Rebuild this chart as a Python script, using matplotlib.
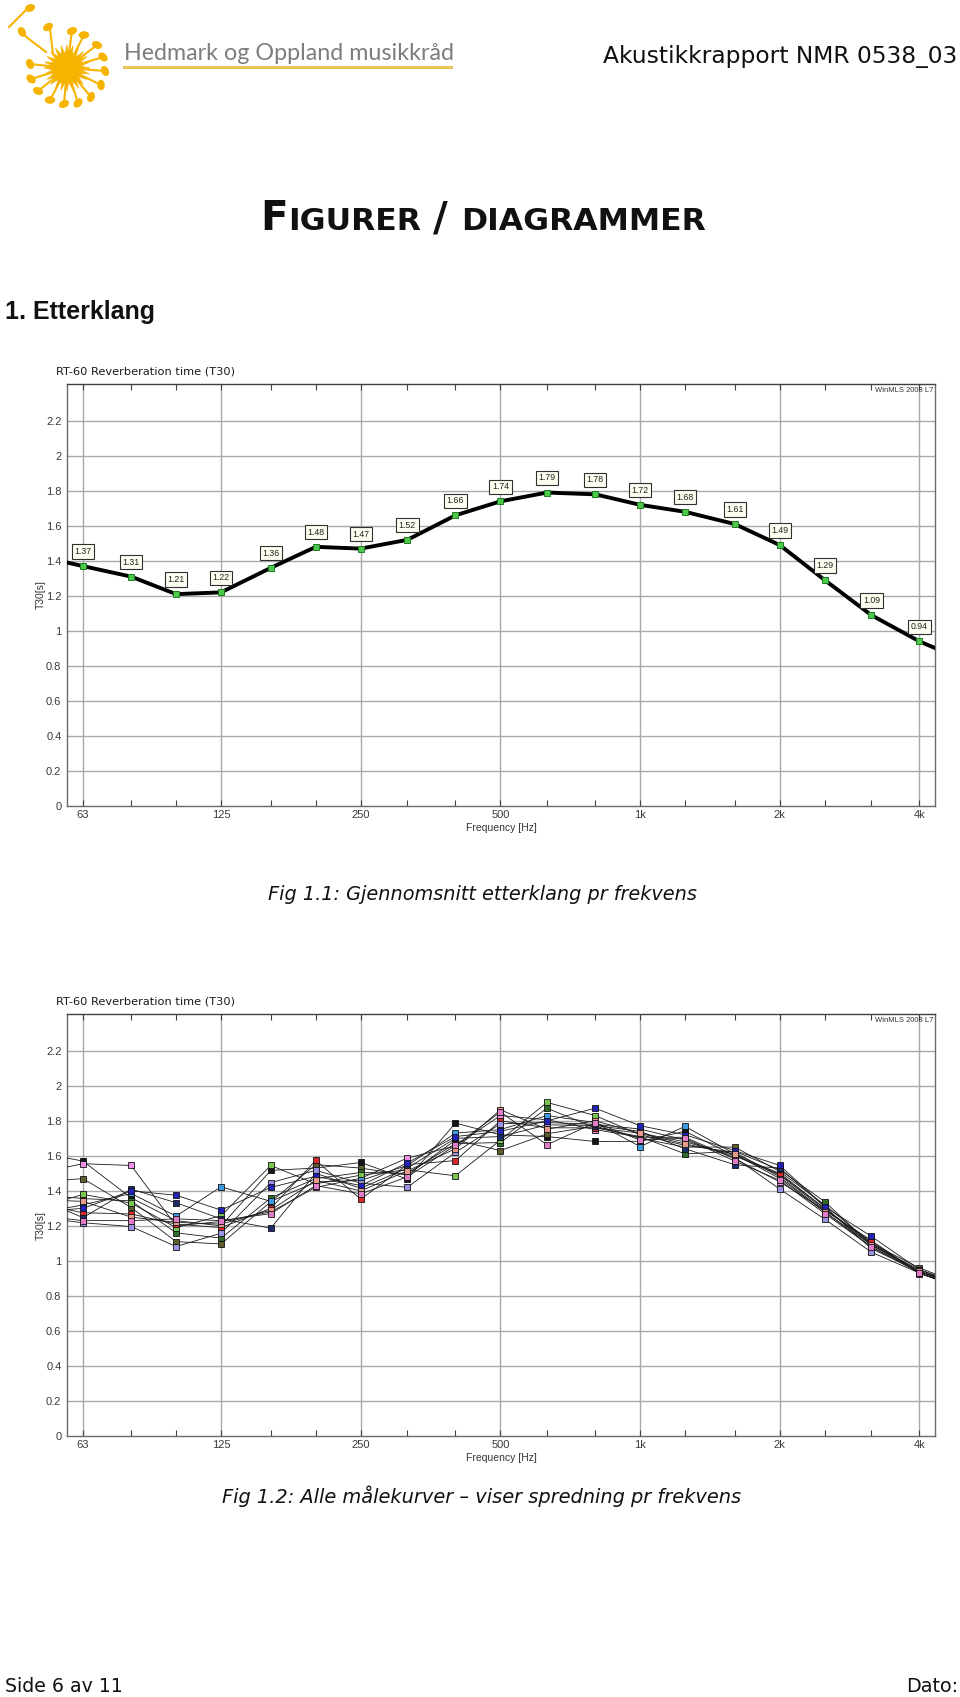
import matplotlib
matplotlib.use('Agg')
import matplotlib.pyplot as plt
from matplotlib import font_manager
from matplotlib.patches import Ellipse, Polygon
from matplotlib.ticker import FixedLocator, NullLocator, FixedFormatter
import numpy as np

W, H = 960, 1697
available = {f.name for f in font_manager.fontManager.ttflist}
NARROW = 'Liberation Sans Narrow' if 'Liberation Sans Narrow' in available else 'Liberation Sans'

# ---------------- data ----------------
freqs = [50, 63, 80, 100, 125, 160, 200, 250, 315, 400, 500, 630, 800,
         1000, 1250, 1600, 2000, 2500, 3150, 4000, 5000]
tick_freqs = [63, 80, 100, 125, 160, 200, 250, 315, 400, 500, 630, 800,
              1000, 1250, 1600, 2000, 2500, 3150, 4000]
major_freqs = [63, 125, 250, 500, 1000, 2000, 4000]
major_labels = ['63', '125', '250', '500', '1k', '2k', '4k']
y_ticks = [0, 0.2, 0.4, 0.6, 0.8, 1.0, 1.2, 1.4, 1.6, 1.8, 2.0, 2.2]
y_labels = ['0', '0.2', '0.4', '0.6', '0.8', '1', '1.2', '1.4', '1.6', '1.8', '2', '2.2']

mean_t30 = [1.43, 1.37, 1.31, 1.21, 1.22, 1.36, 1.48, 1.47, 1.52, 1.66, 1.74,
            1.79, 1.78, 1.72, 1.68, 1.61, 1.49, 1.29, 1.09, 0.94, 0.83]

pos_black = [1.62, 1.57, 1.36, 1.23, 1.20, 1.517, 1.53, 1.562, 1.467, 1.787, 1.72,
             1.71, 1.682, 1.683, 1.74, 1.60, 1.50, 1.30, 1.10, 0.94, 0.85]
pos_pink = [1.50, 1.555, 1.545, 1.20, 1.225, 1.28, 1.42, 1.472, 1.587, 1.657, 1.83,
            1.806, 1.75, 1.706, 1.706, 1.583, 1.451, 1.29, 1.117, 0.928, 0.84]
pos_olive = [1.45, 1.47, 1.305, 1.11, 1.097, 1.338, 1.55, 1.53, 1.49, 1.69, 1.63,
             1.726, 1.77, 1.70, 1.65, 1.65, 1.51, 1.32, 1.10, 0.96, 0.86]
pos_dkgreen = [1.38, 1.356, 1.343, 1.16, 1.13, 1.36, 1.47, 1.505, 1.50, 1.67, 1.676,
               1.872, 1.76, 1.71, 1.611, 1.626, 1.52, 1.338, 1.09, 0.95, 0.85]
pos_ltgreen = [1.30, 1.38, 1.33, 1.19, 1.258, 1.545, 1.44, 1.49, 1.52, 1.486, 1.69,
               1.905, 1.83, 1.72, 1.66, 1.62, 1.48, 1.28, 1.08, 0.94, 0.84]
pos_ltblue = [1.27, 1.32, 1.385, 1.256, 1.423, 1.34, 1.45, 1.46, 1.545, 1.73, 1.75,
              1.83, 1.79, 1.653, 1.768, 1.611, 1.494, 1.30, 1.09, 0.94, 0.85]
pos_red = [1.33, 1.275, 1.268, 1.21, 1.19, 1.30, 1.574, 1.352, 1.55, 1.573, 1.80,
           1.76, 1.76, 1.73, 1.68, 1.60, 1.49, 1.29, 1.11, 0.93, 0.84]
pos_navy = [1.36, 1.247, 1.41, 1.332, 1.24, 1.187, 1.50, 1.415, 1.53, 1.70, 1.71,
            1.777, 1.773, 1.74, 1.64, 1.549, 1.53, 1.31, 1.07, 0.94, 0.86]
pos_lavender = [1.25, 1.218, 1.196, 1.082, 1.158, 1.447, 1.517, 1.444, 1.42, 1.62, 1.783,
                1.79, 1.78, 1.753, 1.69, 1.59, 1.41, 1.238, 1.05, 0.93, 0.85]
pos_blue = [1.28, 1.30, 1.40, 1.375, 1.29, 1.42, 1.483, 1.43, 1.56, 1.71, 1.74,
            1.80, 1.872, 1.772, 1.72, 1.63, 1.545, 1.31, 1.14, 0.95, 0.86]
pos_salmon = [1.35, 1.34, 1.25, 1.22, 1.21, 1.29, 1.46, 1.40, 1.514, 1.64, 1.863,
              1.752, 1.80, 1.728, 1.668, 1.61, 1.47, 1.28, 1.092, 0.94, 0.85]
pos_pink2 = [1.26, 1.23, 1.23, 1.24, 1.23, 1.27, 1.43, 1.383, 1.48, 1.66, 1.85,
             1.663, 1.79, 1.69, 1.70, 1.57, 1.46, 1.27, 1.08, 0.93, 0.84]

series = [pos_black, pos_pink, pos_olive, pos_dkgreen, pos_ltgreen, pos_ltblue,
          pos_red, pos_navy, pos_lavender, pos_blue, pos_salmon, pos_pink2]
series_colors = ['#141414', '#f090e6', '#5e5c2c', '#2f6b2b', '#7cc452', '#3a9ae2',
                 '#d82a2a', '#1d2c6a', '#9a92e2', '#2222b8', '#e89a8a', '#e07cc8']

# ---------------- figure ----------------
fig = plt.figure(figsize=(9.6, 16.97), dpi=100)
fig.patch.set_facecolor('white')
renderer = fig.canvas.get_renderer()


def fit_text(x, y, s, width, size0=12, **kw):
    t = fig.text(x / W, 1 - y / H, s, fontsize=size0, **kw)
    w = t.get_window_extent(renderer).width
    t.set_fontsize(size0 * width / w)
    return t


# ---- logo ----
SUN = '#f6b400'
lax = fig.add_axes([0, 1 - 125 / H, 130 / W, 125 / H])
lax.set_xlim(0, 130)
lax.set_ylim(125, 0)
lax.axis('off')
cx, cy = 67, 68
ang = np.linspace(0, 2 * np.pi, 49)[:-1]
rr = np.where(np.arange(48) % 2 == 0, 23, 14)
lax.add_patch(Polygon(np.c_[cx + rr * np.cos(ang), cy + rr * np.sin(ang)],
                      closed=True, fc=SUN, ec=SUN, lw=0.5))
heads = [(72, 31), (84, 35), (97, 45), (103, 57), (105, 71), (101, 85), (91, 97),
         (78, 103), (64, 104), (50, 100), (38, 91), (31, 79), (30, 64)]
for hx, hy in heads:
    dx, dy = hx - cx, hy - cy
    d = np.hypot(dx, dy)
    ux, uy = dx / d, dy / d
    lax.plot([cx + ux * 14, hx - ux * 3], [cy + uy * 14, hy - uy * 3],
             color=SUN, lw=1.5, solid_capstyle='round')
    lax.add_patch(Ellipse((hx, hy), 10.5, 7.5, angle=np.degrees(np.arctan2(dy, dx)) + 60,
                          fc=SUN, ec='none'))
# detached notes at upper left
lax.plot([50, 53], [29, 54], color=SUN, lw=1.5)
lax.add_patch(Ellipse((48, 27), 10.5, 7.5, angle=-30, fc=SUN, ec='none'))
lax.plot([25, 46], [36, 52], color=SUN, lw=1.5)
lax.add_patch(Ellipse((22, 32), 10.5, 7.5, angle=60, fc=SUN, ec='none'))
lax.plot([27, 9], [9, 27], color=SUN, lw=1.5)
lax.add_patch(Ellipse((30, 8), 10.5, 7.5, angle=-20, fc=SUN, ec='none'))

fit_text(124, 53, 'Hedmark og Oppland musikkråd', 327, family='Lato',
         color='#7d7d7d', va='center', ha='left')
fig.add_artist(plt.Line2D([124 / W, 451 / W], [1 - 67 / H, 1 - 67 / H],
                          color='#e9c65a', lw=2.2))

fit_text(603, 57, 'Akustikkrapport NMR 0538_03', 355, family='DejaVu Sans',
         color='#111111', va='center', ha='left')

# ---- heading with small caps ----
pieces = [('F', 1.0), ('IGURER', 0.78), ('/', 1.0), ('DIAGRAMMER', 0.78)]
gaps = [0, 0, 0.32, 0.32]
base = 26
tmp = []
total = 0
for (s, f), g in zip(pieces, gaps):
    t = fig.text(0, 0, s, fontsize=base * f, family='DejaVu Sans', weight='bold')
    w = t.get_window_extent(renderer).width
    tmp.append((t, w, g * base * 100 / 72))
    total += w + g * base * 100 / 72
for t, _, _ in tmp:
    t.remove()
scale = 446 / total
x0 = 483 - 446 / 2
baseline = 230
for (s, f), (t, w, g) in zip(pieces, tmp):
    x0 += g * scale
    fig.text(x0 / W, 1 - baseline / H, s, fontsize=base * f * scale,
             family='DejaVu Sans', weight='bold', va='baseline', ha='left', color='#111111')
    x0 += w * scale

fit_text(5, 312, '1. Etterklang', 150, family=NARROW, weight='bold',
         va='center', ha='left', color='#111111')


# ---- charts ----
def make_chart(top):
    left, right, height = 67, 935, 422
    ax = fig.add_axes([left / W, 1 - (top + height) / H, (right - left) / W, height / H])
    ax.set_xscale('log')
    ax.set_xlim(58.2, 4320)
    ax.set_ylim(0, 2.41)
    ax.xaxis.set_major_locator(FixedLocator(tick_freqs))
    ax.xaxis.set_minor_locator(NullLocator())
    lab = [major_labels[major_freqs.index(f)] if f in major_freqs else '' for f in tick_freqs]
    ax.xaxis.set_major_formatter(FixedFormatter(lab))
    ax.set_yticks(y_ticks)
    ax.set_yticklabels(y_labels)
    ax.tick_params(axis='x', direction='in', top=True, bottom=True, length=4,
                   width=0.8, color='#404040', labelsize=8, labelcolor='#3a3a3a', pad=3)
    ax.tick_params(axis='y', length=0, labelsize=8, labelcolor='#3a3a3a', pad=4)
    for lbl in ax.get_xticklabels() + ax.get_yticklabels():
        lbl.set_family(NARROW)
    for f in major_freqs:
        ax.axvline(f, color='#a9a9a9', lw=1.0, zorder=0)
    for v in y_ticks[1:]:
        ax.axhline(v, color='#a9a9a9', lw=1.0, zorder=0)
    for sp in ax.spines.values():
        sp.set_color('#6a6a6a')
        sp.set_linewidth(1.0)
    ax.spines['top'].set_color('#404040')
    ax.text(0.998, 0.992, 'WinMLS 2008 L7', transform=ax.transAxes, ha='right', va='top',
            fontsize=5.5, family=NARROW, color='#333333')
    ax.text(-0.030, 0.5, 'T30[s]', transform=ax.transAxes, rotation=90, ha='center',
            va='center', fontsize=7.5, family=NARROW, color='#333333')
    fig.text(501 / W, 1 - (top + height + 22) / H, 'Frequency [Hz]', ha='center', va='center',
             fontsize=7.5, family=NARROW, color='#333333')
    fig.text(56 / W, 1 - (top - 13) / H, 'RT-60 Reverberation time (T30)', ha='left',
             va='center', fontsize=8.2, family='DejaVu Sans', color='#1a1a1a')
    return ax


ax1 = make_chart(384)
ax1.plot(freqs, mean_t30, color='black', lw=2.8, zorder=3, solid_joinstyle='round')
ax1.plot(freqs, mean_t30, ls='none', marker='s', ms=4.8, mfc='#4cc84c', mec='#1f7a1f',
         mew=0.7, zorder=4)
for f, v in zip(freqs, mean_t30):
    if 60 <= f <= 4100:
        ax1.annotate(f'{v:.2f}', (f, v), xytext=(0, 10.5), textcoords='offset points',
                     ha='center', va='center', fontsize=6.3, family=NARROW, color='#222222',
                     bbox=dict(boxstyle='square,pad=0.3', fc='#fdfdf0', ec='#303030', lw=0.8),
                     zorder=5)

ax2 = make_chart(1014)
for vals in series:
    ax2.plot(freqs, vals, color='#1a1a1a', lw=0.6, zorder=3)
for vals, c in zip(series, series_colors):
    ax2.plot(freqs, vals, ls='none', marker='s', ms=4.6, mfc=c, mec='#111111',
             mew=0.6, zorder=4)

# ---- captions & footer ----
fit_text(482, 895, 'Fig 1.1: Gjennomsnitt etterklang pr frekvens', 428,
         family='DejaVu Sans', style='italic', ha='center', va='center', color='#111111')
fit_text(482, 1496, 'Fig 1.2: Alle målekurver – viser spredning pr frekvens', 517,
         family='DejaVu Sans', style='italic', ha='center', va='center', color='#111111')
fit_text(5, 1687, 'Side 6 av 11', 117, family='DejaVu Sans', ha='left', va='center',
         color='#111111')
fit_text(958, 1687, 'Dato:', 52, family='DejaVu Sans', ha='right', va='center',
         color='#111111')

fig.savefig('out.png', dpi=100, facecolor='white')
